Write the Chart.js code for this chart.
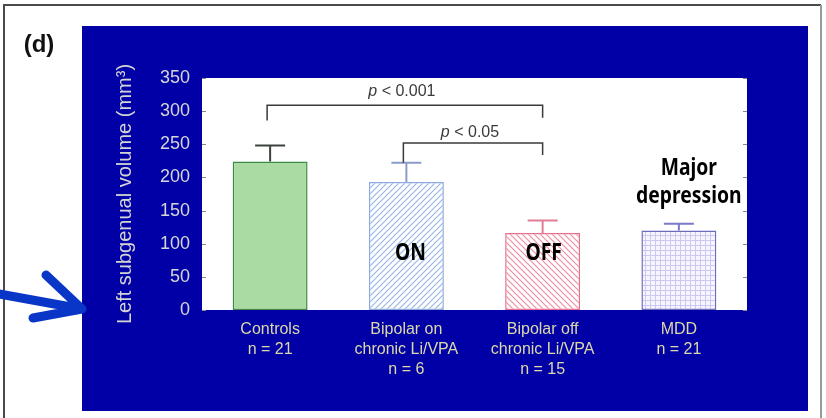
<!DOCTYPE html>
<html>
<head>
<meta charset="utf-8">
<script src="https://cdn.jsdelivr.net/npm/chart.js@4"></script>
<style>
  html, body { margin: 0; padding: 0; background: #fff; }
  canvas { display: block; }
</style>
</head>
<body>
<canvas id="volumeChart" width="826" height="418"></canvas>
<script>
// Data
const categories = [
    ['Controls', 'n = 21'],
    ['Bipolar on', 'chronic Li/VPA', 'n = 6'],
    ['Bipolar off', 'chronic Li/VPA', 'n = 15'],
    ['MDD', 'n = 21']
];
const volumes = [224, 193, 116, 120];   // mean, mm3
const errors = [24, 29, 19, 10];        // upper error bar
const yTicks = [0, 50, 100, 150, 200, 250, 300, 350];

// significance brackets (data units)
const brackets = [
    { from: 0, to: 2, level: 309, footFrom: 286, footTo: 290, text: '0.001', textAt: 329 },
    { from: 1, to: 2, level: 252, footFrom: 222, footTo: 234, text: '0.05', textAt: 267 }
];

const panelBlue = '#0000a6';

function hatch(color, dir) {
    const c = document.createElement('canvas');
    c.width = 6; c.height = 6;
    const g = c.getContext('2d');
    g.fillStyle = '#fff';
    g.fillRect(0, 0, 6, 6);
    g.strokeStyle = color;
    g.lineWidth = 1.2;
    g.beginPath();
    if (dir > 0) {
        g.moveTo(0, 6); g.lineTo(6, 0);
        g.moveTo(-3, 3); g.lineTo(3, -3);
        g.moveTo(3, 9); g.lineTo(9, 3);
    } else {
        g.moveTo(0, 0); g.lineTo(6, 6);
        g.moveTo(-3, 3); g.lineTo(3, 9);
        g.moveTo(3, -3); g.lineTo(9, 3);
    }
    g.stroke();
    return g.createPattern(c, 'repeat');
}

function gridPattern(color) {
    const c = document.createElement('canvas');
    c.width = 5; c.height = 5;
    const g = c.getContext('2d');
    g.fillStyle = '#f6f4ff';
    g.fillRect(0, 0, 5, 5);
    g.fillStyle = color;
    g.fillRect(0, 0, 5, 1);
    g.fillRect(0, 0, 1, 5);
    return g.createPattern(c, 'repeat');
}

const fills = ['#a9dba3', hatch('#9bb6e6', 1), hatch('#f08ea4', -1), gridPattern('#cdc8f0')];
const borders = ['#3f8a45', '#8eaadf', '#e8708e', '#6d6dbb'];
const errColors = ['#3c423c', '#8a9ccb', '#e27d96', '#7a7ac6'];

// narrow bold label (font squeezed a little to look like the original)
function boldLabel(ctx, text, x, y) {
    ctx.save();
    ctx.translate(x, y);
    ctx.scale(0.84, 1);
    ctx.fillText(text, 0, 0);
    ctx.restore();
}

const decorations = {
    id: 'decorations',
    beforeDraw(chart) {
        const { ctx, chartArea: a } = chart;
        ctx.save();
        ctx.fillStyle = '#fff';
        ctx.fillRect(0, 0, 826, 418);
        // outer frame
        ctx.strokeStyle = '#4a4a4a';
        ctx.lineWidth = 2;
        ctx.beginPath();
        ctx.moveTo(4, 420); ctx.lineTo(4, 5); ctx.lineTo(821, 5);
        ctx.stroke();
        ctx.strokeStyle = '#999';
        ctx.beginPath();
        ctx.moveTo(821, 5); ctx.lineTo(821, 420);
        ctx.stroke();
        // blue panel
        ctx.fillStyle = panelBlue;
        ctx.fillRect(82, 26, 726, 385);
        ctx.fillStyle = '#fff';
        ctx.fillRect(a.left, a.top, a.right - a.left, a.bottom - a.top);
        // panel letter
        ctx.fillStyle = '#111';
        ctx.font = 'bold 24px "Liberation Sans", Arial, sans-serif';
        ctx.textAlign = 'center';
        ctx.textBaseline = 'middle';
        ctx.fillText('(d)', 39, 45);
        // arrow
        ctx.strokeStyle = '#0a36c8';
        ctx.lineWidth = 9;
        ctx.lineCap = 'round';
        ctx.lineJoin = 'round';
        ctx.beginPath();
        ctx.moveTo(-6, 293); ctx.lineTo(82, 309);
        ctx.moveTo(46, 275); ctx.lineTo(82, 309); ctx.lineTo(33, 318);
        ctx.stroke();
        ctx.restore();
    },
    afterDatasetsDraw(chart) {
        const { ctx, chartArea: a } = chart;
        const y = chart.scales.y;
        const bars = chart.getDatasetMeta(0).data;
        ctx.save();
        // small inward ticks on both sides
        ctx.strokeStyle = '#888';
        ctx.lineWidth = 1;
        yTicks.forEach(t => {
            const py = Math.round(y.getPixelForValue(t)) + 0.5;
            ctx.beginPath();
            ctx.moveTo(a.left, py); ctx.lineTo(a.left + 4, py);
            ctx.moveTo(a.right - 4, py); ctx.lineTo(a.right, py);
            ctx.stroke();
        });
        // error bars
        ctx.lineWidth = 2;
        bars.forEach((bar, i) => {
            const top = y.getPixelForValue(volumes[i] + errors[i]);
            ctx.strokeStyle = errColors[i];
            ctx.beginPath();
            ctx.moveTo(bar.x, bar.y); ctx.lineTo(bar.x, top);
            ctx.moveTo(bar.x - 15, top); ctx.lineTo(bar.x + 15, top);
            ctx.stroke();
        });
        // significance brackets
        ctx.strokeStyle = '#3a3a3a';
        ctx.lineWidth = 1.5;
        ctx.fillStyle = '#3a3a3a';
        ctx.textBaseline = 'middle';
        brackets.forEach(b => {
            const x1 = bars[b.from].x - 3, x2 = bars[b.to].x;
            const ly = y.getPixelForValue(b.level);
            ctx.beginPath();
            ctx.moveTo(x1, y.getPixelForValue(b.footFrom));
            ctx.lineTo(x1, ly); ctx.lineTo(x2, ly);
            ctx.lineTo(x2, y.getPixelForValue(b.footTo));
            ctx.stroke();
            const ty = y.getPixelForValue(b.textAt);
            const cx = (x1 + x2) / 2 - 3;
            ctx.font = 'italic 16px "Liberation Sans", Arial, sans-serif';
            const pW = ctx.measureText('p').width;
            ctx.font = '16px "Liberation Sans", Arial, sans-serif';
            const rest = ' < ' + b.text;
            const rW = ctx.measureText(rest).width;
            const sx = cx - (pW + rW) / 2;
            ctx.textAlign = 'left';
            ctx.fillText(rest, sx + pW, ty);
            ctx.font = 'italic 16px "Liberation Sans", Arial, sans-serif';
            ctx.fillText('p', sx, ty);
        });
        // bold annotations
        ctx.fillStyle = '#000';
        ctx.textAlign = 'center';
        ctx.font = 'bold 23px "Noto Sans", "Open Sans", sans-serif';
        boldLabel(ctx, 'ON', bars[1].x + 4, y.getPixelForValue(86));
        boldLabel(ctx, 'OFF', bars[2].x + 1, y.getPixelForValue(86));
        boldLabel(ctx, 'Major', bars[3].x + 10, y.getPixelForValue(213));
        boldLabel(ctx, 'depression', bars[3].x + 10, y.getPixelForValue(171));
        ctx.restore();
    }
};

new Chart(document.getElementById('volumeChart'), {
    type: 'bar',
    data: {
        labels: categories,
        datasets: [{
            data: volumes,
            backgroundColor: fills,
            borderColor: borders,
            borderWidth: 1.5,
            borderSkipped: false,
            barPercentage: 0.55,
            categoryPercentage: 1
        }]
    },
    options: {
        responsive: false,
        animation: false,
        layout: { padding: { left: 0, right: 79, top: 78, bottom: 0 } },
        plugins: { legend: { display: false }, tooltip: { enabled: false } },
        scales: {
            x: {
                grid: { display: false, drawTicks: false },
                border: { display: false },
                ticks: {
                    color: '#dcd8aa',
                    padding: 10,
                    maxRotation: 0,
                    font: { family: '"Liberation Sans", Arial, sans-serif', size: 16, lineHeight: 1.25 }
                },
                afterFit(scale) { scale.height = 108; }
            },
            y: {
                min: 0,
                max: 350,
                grid: { display: false, drawTicks: false },
                border: { display: false },
                ticks: {
                    stepSize: 50,
                    color: '#d6d6d6',
                    padding: 12,
                    font: { family: '"Liberation Sans", Arial, sans-serif', size: 18 }
                },
                title: {
                    display: true,
                    text: 'Left subgenual volume (mm³)',
                    color: '#d4d4d4',
                    padding: { top: 113, bottom: 0 },
                    font: { family: '"Liberation Sans", Arial, sans-serif', size: 20 }
                },
                afterFit(scale) { scale.width = 202; }
            }
        }
    },
    plugins: [decorations]
});
</script>
</body>
</html>
